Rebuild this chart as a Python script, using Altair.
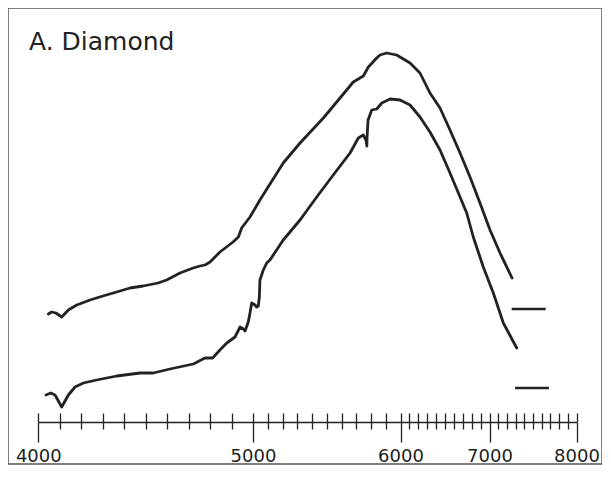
import altair as alt
import pandas as pd

# ---- data ----
title_text = "A. Diamond"

upper_wl = [4047, 4062, 4082, 4109, 4140, 4179, 4241, 4301, 4365, 4427,
            4488, 4558, 4598, 4660, 4721, 4753, 4776, 4800, 4846, 4907,
            4932, 4947, 4986, 5047, 5205, 5319, 5477, 5590, 5680, 5748,
            5782, 5839, 5861, 5906, 5974, 6107, 6219, 6331, 6444, 6556,
            6669, 6781, 6893, 7006, 7121, 7259]
upper_val = [152, 154, 153, 149, 156, 161, 166, 170, 174, 178,
             180, 183, 186, 193, 198, 200, 201, 204, 214, 224,
             229, 238, 249, 266, 303, 323, 348, 368, 384, 390,
             399, 408, 411, 413, 411, 403, 393, 373, 358, 336,
             313, 289, 263, 236, 213, 188]

lower_wl = [4036, 4058, 4078, 4109, 4140, 4171, 4210, 4272, 4365, 4474,
            4536, 4613, 4722, 4776, 4812, 4846, 4878, 4916, 4940, 4955,
            4963, 4978, 4986, 4994, 5014, 5025, 5036, 5043, 5047, 5070,
            5093, 5115, 5205, 5319, 5432, 5544, 5658, 5714, 5748, 5768,
            5772, 5773, 5780, 5805, 5839, 5873, 5929, 5997, 6107, 6219,
            6331, 6444, 6556, 6669, 6744, 6818, 6930, 7044, 7159, 7313]
lower_val = [71, 73, 71, 59, 71, 79, 83, 86, 90, 93,
             93, 97, 102, 108, 108, 116, 123, 129, 139, 137,
             135, 144, 153, 163, 161, 159, 160, 169, 186, 196,
             203, 206, 226, 246, 269, 291, 313, 328, 331, 325,
             320, 328, 346, 356, 357, 363, 367, 366, 361, 349,
             334, 316, 293, 269, 253, 229, 199, 173, 143, 118]

# short reference (baseline) marks at the right
ref_start = [7255, 7293]
ref_end = [7646, 7684]
ref_val = [157, 78]

major_ticks = [4000, 5000, 6000, 7000, 8000]
tick_values = list(range(4000, 8001, 100))

# ---- tables ----
rows = []
for i, (w, v) in enumerate(zip(upper_wl, upper_val)):
    rows.append({"wavelength": w, "value": v, "series": "upper", "i": i})
for i, (w, v) in enumerate(zip(lower_wl, lower_val)):
    rows.append({"wavelength": w, "value": v, "series": "lower", "i": i})
curves = pd.DataFrame(rows)
refs = pd.DataFrame({"start": ref_start, "end": ref_end, "value": ref_val})
label_df = pd.DataFrame({"t": [title_text]})

W, H = 594, 456
INK = "#222222"

x_scale = alt.Scale(domain=major_ticks, range=[30.3, 245, 392.5, 481.5, 568.5])
y_scale = alt.Scale(domain=[2, 458], nice=False, zero=False)

bottom_axis = alt.Axis(
    orient="bottom", offset=-42, values=tick_values, format="d",
    labelExpr="datum.value % 1000 === 0 ? datum.label : ''",
    tickSize={"condition": {"test": "datum.value % 1000 === 0", "value": 20}, "value": 7},
    tickColor=INK, tickWidth=1.3, domainColor=INK, domainWidth=1.6,
    labelFont="DejaVu Sans", labelFontSize=18, labelColor=INK,
    labelPadding=5, labelOverlap=False, labelFlush=False, grid=False, title=None,
)
top_axis = alt.Axis(
    orient="top", offset=-414, values=tick_values, tickSize=9,
    tickColor=INK, tickWidth=1.3, domain=False, labels=False, grid=False, title=None,
)

lines = alt.Chart(curves).mark_line(color=INK, strokeWidth=2.8, strokeCap="round",
                                    strokeJoin="round").encode(
    x=alt.X("wavelength:Q", scale=x_scale, axis=bottom_axis),
    y=alt.Y("value:Q", scale=y_scale, axis=None),
    detail="series:N",
    order="i:Q",
)

ref_marks = alt.Chart(refs).mark_rule(color=INK, strokeWidth=2.6).encode(
    x=alt.X("start:Q", scale=x_scale, axis=top_axis),
    x2="end:Q",
    y=alt.Y("value:Q", scale=y_scale, axis=None),
)

label = alt.Chart(label_df).mark_text(
    align="left", baseline="alphabetic", font="DejaVu Sans", fontSize=25, color=INK
).encode(x=alt.value(21), y=alt.value(42), text="t:N")

chart = alt.layer(lines, ref_marks, label).resolve_axis(x="independent").properties(
    width=W, height=H, padding=0, background="white"
).configure_view(stroke="#555555", strokeWidth=1.5)

chart.save("out.html", embed_options={"renderer": "svg", "actions": False})
